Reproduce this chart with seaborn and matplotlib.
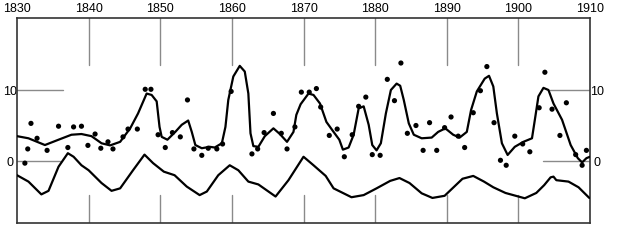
import matplotlib
matplotlib.use("Agg")
import matplotlib.pyplot as plt
import seaborn as sns
import pandas as pd

# ---- data ----
dot_year = [1831.1, 1831.5, 1831.95, 1832.8, 1834.2, 1835.8, 1837.1, 1837.9, 1839.0, 1839.9,
            1840.9, 1841.7, 1842.7, 1843.4, 1844.8, 1845.5, 1846.8, 1847.9, 1848.7, 1849.7,
            1850.7, 1851.7, 1852.8, 1853.8, 1854.7, 1855.8, 1856.7, 1857.9, 1858.7, 1859.9,
            1862.8, 1863.6, 1864.5, 1865.8, 1866.9, 1867.7, 1868.8, 1869.7, 1870.8, 1871.8,
            1872.4, 1873.6, 1874.7, 1875.7, 1876.8, 1877.7, 1878.7, 1879.6, 1880.7, 1881.7,
            1882.7, 1883.6, 1884.5, 1885.7, 1886.7, 1887.6, 1888.6, 1889.7, 1890.6, 1891.6,
            1892.5, 1893.7, 1894.7, 1895.6, 1896.6, 1897.5, 1898.3, 1899.5, 1900.6, 1901.6,
            1902.9, 1903.7, 1904.7, 1905.8, 1906.7, 1908.0, 1908.9, 1909.5]
dot_value = [-0.3, 1.7, 5.3, 3.2, 1.5, 4.9, 1.9, 4.8, 4.9, 2.2,
             3.8, 1.8, 2.7, 1.7, 3.4, 4.5, 4.5, 10.1, 10.1, 3.7,
             1.9, 4.0, 3.4, 8.6, 1.7, 0.8, 1.8, 1.7, 2.4, 9.8,
             1.0, 1.7, 4.0, 6.7, 3.9, 1.7, 4.8, 9.7, 9.7, 10.2,
             7.6, 3.6, 4.5, 0.6, 3.7, 7.7, 9.0, 0.9, 0.8, 11.5,
             8.5, 13.8, 3.9, 5.0, 1.5, 5.4, 1.5, 4.7, 6.2, 3.5,
             1.9, 6.8, 9.9, 13.3, 5.4, 0.1, -0.6, 3.5, 2.4, 1.3,
             7.5, 12.5, 7.3, 3.6, 8.2, 0.9, -0.6, 1.5]

upper_year = [1830.0, 1831.6, 1833.9, 1835.8, 1837.6, 1839.0, 1840.4, 1841.8, 1843.0, 1844.4,
              1845.8, 1846.9, 1848.1, 1848.8, 1849.5, 1849.9, 1850.2, 1851.0, 1852.1, 1853.0,
              1853.9, 1854.4, 1854.9, 1855.8, 1856.9, 1857.6, 1858.6, 1859.1, 1859.5, 1860.2,
              1861.1, 1861.8, 1862.3, 1862.6, 1863.0, 1863.7, 1864.6, 1865.8, 1866.7, 1867.7,
              1868.6, 1869.0, 1869.6, 1870.7, 1871.4, 1872.3, 1873.2, 1874.2, 1875.0, 1875.5,
              1876.3, 1877.0, 1877.7, 1878.4, 1879.1, 1879.6, 1880.2, 1880.8, 1881.5, 1882.2,
              1883.0, 1883.5, 1884.0, 1884.7, 1885.4, 1886.5, 1887.9, 1888.8, 1889.8, 1890.9,
              1891.8, 1892.8, 1893.4, 1894.2, 1895.3, 1895.9, 1896.5, 1897.0, 1897.7, 1898.5,
              1899.5, 1900.7, 1901.9, 1902.3, 1902.8, 1903.5, 1904.2, 1904.9, 1906.1, 1907.3,
              1908.3, 1908.9, 1909.5, 1910.0]
upper_value = [3.5, 3.2, 2.25, 3.0, 3.7, 3.8, 3.5, 2.5, 2.2, 2.7,
               4.6, 6.7, 9.5, 9.3, 8.4, 4.8, 3.4, 3.0, 4.1, 5.1,
               5.7, 4.1, 2.25, 1.8, 2.0, 1.9, 2.5, 4.8, 8.6, 11.9,
               13.4, 12.6, 9.5, 3.9, 2.1, 2.0, 3.5, 4.6, 3.8, 2.7,
               4.1, 6.5, 8.0, 9.5, 9.3, 8.1, 5.5, 4.1, 3.0, 1.6,
               1.9, 3.7, 7.4, 7.7, 5.1, 2.25, 1.5, 2.5, 6.7, 10.0,
               10.9, 10.6, 8.6, 5.3, 3.7, 3.2, 3.3, 4.1, 4.6, 3.7,
               3.3, 4.1, 7.2, 9.8, 11.6, 12.0, 10.5, 6.7, 2.5, 0.85,
               2.0, 2.7, 3.2, 5.8, 9.1, 10.3, 10.0, 8.1, 5.8, 2.25,
               0.4, -0.2, 0.4, 0.6]

lower_year = [1830.0, 1831.6, 1833.4, 1834.4, 1835.8, 1837.1, 1837.9, 1839.0, 1840.0, 1841.8,
              1843.2, 1844.4, 1846.2, 1847.8, 1849.0, 1850.5, 1852.0, 1853.7, 1855.5, 1856.5,
              1858.1, 1859.7, 1860.9, 1862.3, 1863.7, 1866.1, 1867.9, 1870.0, 1871.4, 1873.1,
              1874.2, 1876.7, 1878.4, 1880.2, 1882.1, 1883.4, 1884.8, 1886.5, 1888.0, 1889.7,
              1892.2, 1893.7, 1895.2, 1896.5, 1898.2, 1900.9, 1902.5, 1903.6, 1904.5, 1904.9,
              1905.3, 1907.0, 1908.4, 1909.9]
lower_value = [-2.0, -2.9, -4.7, -4.2, -0.8, 1.1, 0.6, -0.6, -1.3, -3.1,
               -4.2, -3.85, -1.3, 0.9, -0.3, -1.5, -2.0, -3.6, -4.8, -4.3,
               -2.0, -0.6, -1.3, -2.9, -3.3, -5.0, -2.7, 0.6, -0.6, -2.1,
               -3.85, -5.1, -4.8, -3.85, -2.8, -2.4, -3.1, -4.55, -5.2, -4.9,
               -2.5, -2.1, -2.9, -3.7, -4.5, -5.25, -4.5, -3.4, -2.3, -2.2,
               -2.7, -2.9, -3.7, -5.2]

decade_labels = ["1830", "1840", "1850", "1860", "1870", "1880", "1890", "1900", "1910"]
decades = [int(d) for d in decade_labels]
y_ticks = [0, 10]

# ---- figure ----
sns.set_theme(style="white")
plt.rcParams["font.family"] = ["Liberation Sans", "DejaVu Sans"]

fig = plt.figure(figsize=(6.2, 2.4), dpi=100)
ax = fig.add_axes([17 / 620, 1 - 223 / 240, 573 / 620, 205 / 240])

ax.set_xlim(1830, 1910)
ax.set_ylim(-8.73, 20.14)

# inner tick lines (long inward ticks)
for d in decades[1:-1]:
    ax.axvline(d, ymin=0.771, ymax=1.0, color="#8a8a8a", lw=1.0, zorder=1)
    ax.axvline(d, ymin=0.0, ymax=0.137, color="#8a8a8a", lw=1.0, zorder=1)
ax.axhline(10, xmin=0.0, xmax=0.080, color="#8a8a8a", lw=1.0, zorder=1)
ax.axhline(0, xmin=0.0, xmax=0.075, color="#8a8a8a", lw=1.0, zorder=1)
ax.axhline(10, xmin=0.930, xmax=1.0, color="#8a8a8a", lw=1.0, zorder=1)
ax.axhline(0, xmin=0.918, xmax=1.0, color="#8a8a8a", lw=1.0, zorder=1)

upper = pd.DataFrame({"year": upper_year, "value": upper_value})
lower = pd.DataFrame({"year": lower_year, "value": lower_value})
dots = pd.DataFrame({"year": dot_year, "value": dot_value})

sns.lineplot(data=upper, x="year", y="value", ax=ax, color="black", lw=1.6,
             sort=False, estimator=None, zorder=3)
sns.lineplot(data=lower, x="year", y="value", ax=ax, color="black", lw=1.6,
             sort=False, estimator=None, zorder=3)
sns.scatterplot(data=dots, x="year", y="value", ax=ax, color="black", s=14,
                edgecolor="none", zorder=4)

ax.set_xlabel("")
ax.set_ylabel("")

ax.set_xticks(decades)
ax.set_xticklabels(decade_labels)
ax.tick_params(axis="x", which="both", length=0, bottom=False, top=False,
               labelbottom=False, labeltop=True, pad=2.5, labelsize=9, colors="black")
ax.set_yticks(y_ticks)
ax.set_yticklabels([str(v) for v in y_ticks])
ax.tick_params(axis="y", which="both", length=0, left=False, right=False,
               labelleft=True, labelright=True, pad=5.3, labelsize=9, colors="black")
for t in ax.yaxis.get_major_ticks():
    t.label1.set_horizontalalignment("center")
    t.label2.set_horizontalalignment("center")

for s in ax.spines.values():
    s.set_visible(True)
    s.set_color("#333333")
    s.set_linewidth(1.2)

fig.savefig("out.png", dpi=100)
